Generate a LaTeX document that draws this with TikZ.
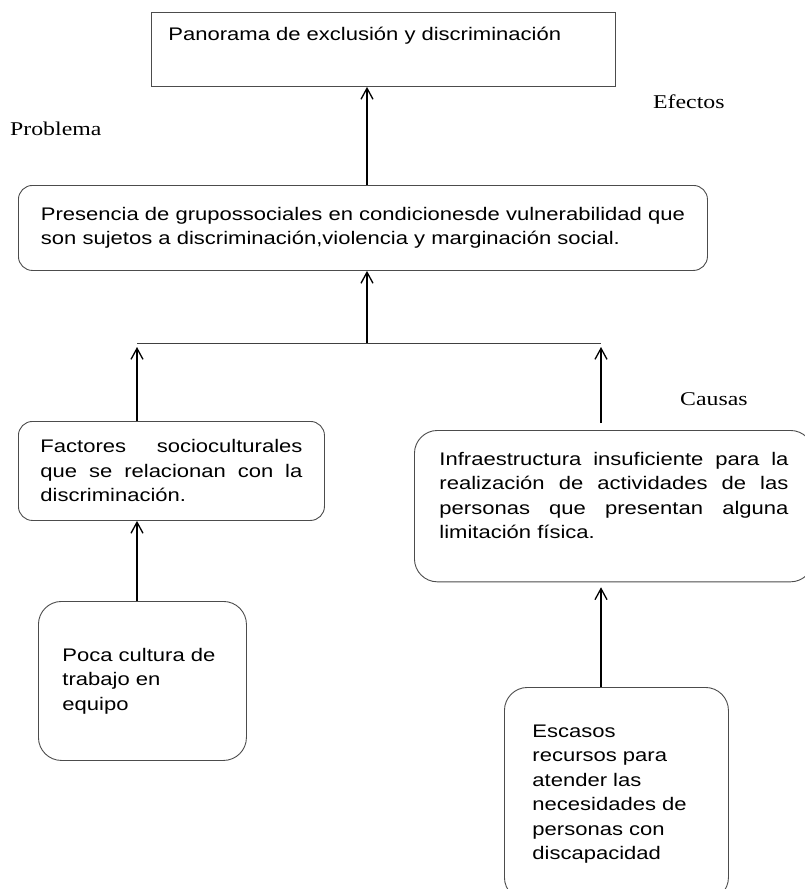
\documentclass[tikz,border=0pt]{standalone}
\usepackage{fontspec}
\newfontfamily\boxfont{Liberation Sans}[FakeStretch=1.21]
\newfontfamily\labelfont{Liberation Serif}[FakeStretch=1.22]
\usetikzlibrary{arrows.meta,calc}

\tikzset{
    box/.style={draw=black!70, line width=0.9pt, anchor=north west, align=left,
        font=\boxfont\fontsize{18.2}{24.5}\selectfont},
    roundbox/.style={box, rounded corners=14pt},
    bigroundbox/.style={box, rounded corners=23pt},
    arr/.style={-{Straight Barb[length=11pt,width=12pt]}, line width=1.3pt},
    tag/.style={anchor=base west, inner sep=0pt,
        font=\labelfont\fontsize{19.5}{22}\selectfont}
}

\begin{document}
\begin{tikzpicture}[x=1pt, y=-1pt]
        \useasboundingbox (0,0) rectangle (805,889);

        % Points of the bar that joins the causes
        \coordinate (TRUNK) at (367,343);
        \coordinate (BAR_L) at (137,343);
        \coordinate (BAR_R) at (601,343);



        % Draw the effect
        \node[box, minimum width=464pt, text width=430pt, inner xsep=17pt, inner ysep=14pt,
            text height=14pt, text depth=32pt] (top) at (151,12)
            {Panorama de exclusión y discriminación};
        \node[tag] (efectos) at (653,108) {Efectos};




        % Draw the problem
        \node[tag] (problema) at (10,135) {Problema};
        \node[roundbox, minimum width=689pt, minimum height=85pt, inner xsep=21pt] (prob) at (18,185)
            {Presencia de grupossociales en condicionesde vulnerabilidad que\\son sujetos a discriminación,violencia y marginación social.};

        \draw[arr] (TRUNK |- prob.north) -- (TRUNK |- top.south);
        \draw[arr] (TRUNK) -- (TRUNK |- prob.south);
        \draw[line width=1pt, black!75] (BAR_L) -- (BAR_R);




        % Draw the causes
        \node[tag] (causas) at (680,405) {Causas};

        \node[roundbox, align=justify, text width=262pt, inner xsep=22pt, minimum height=99pt] (fact) at (18,421)
            {Factores socioculturales\linebreak que se relacionan con la\linebreak discriminación.};

        \node[bigroundbox, align=justify, text width=349pt, inner xsep=25pt, inner ysep=21.6pt,
            text depth=95pt] (infra) at (414,430)
            {Infraestructura insuficiente para la\linebreak realización de actividades de las\linebreak personas que presentan alguna\linebreak limitación física.};

        \draw[arr] (BAR_L |- fact.north) -- ($(BAR_L) + (0,4)$);
        \draw[arr] ($(BAR_R |- infra.north) + (0,-7)$) -- ($(BAR_R) + (0,4)$);




        % Draw the root causes
        \node[bigroundbox, minimum width=208pt, minimum height=159pt, text width=160pt, inner xsep=24pt] (poca) at (38,601)
            {Poca cultura de\\trabajo en\\equipo};

        \node[bigroundbox, minimum width=224pt, minimum height=213pt, text width=168pt, inner xsep=28pt] (esc) at (504,687)
            {Escasos\\recursos para\\atender las\\necesidades de\\personas con\\discapacidad};

        \draw[arr] (BAR_L |- poca.north) -- (BAR_L |- fact.south);
        \draw[arr] (BAR_R |- esc.north) -- ($(BAR_R |- infra.south) + (0,5)$);

\end{tikzpicture}
\end{document}
